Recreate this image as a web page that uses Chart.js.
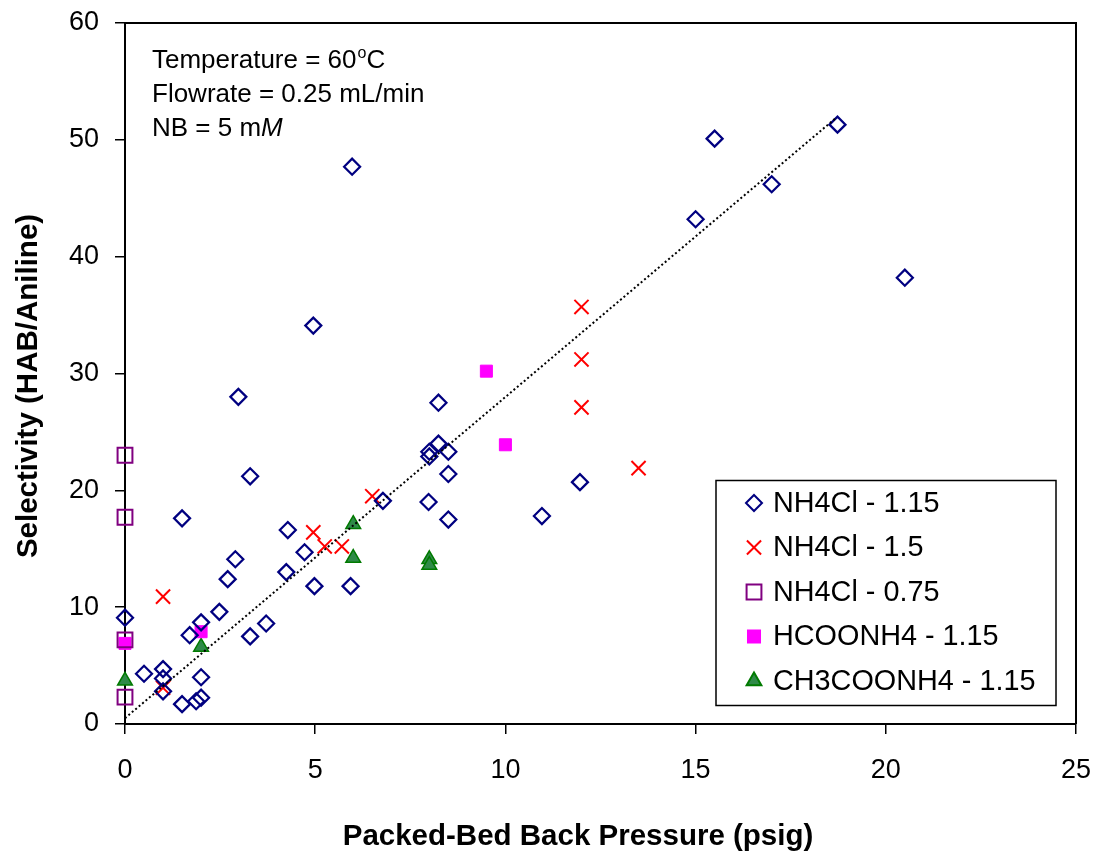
<!DOCTYPE html>
<html>
<head>
<meta charset="utf-8">
<script src="https://cdn.jsdelivr.net/npm/chart.js@4.4.1/dist/chart.umd.min.js"></script>
<style>
    html, body { margin: 0; padding: 0; background: #fff; }
</style>
</head>
<body>
<canvas id="selectivityChart" width="1096" height="854"></canvas>
<script>
const FONT = '"Liberation Sans", Arial, sans-serif';

// NH4Cl - 1.15
const nh4cl115X = [0, 0.5, 1, 1, 1, 1.5, 1.5, 1.7, 2, 2, 1.87, 2, 2.48, 2.7, 2.9, 2.98, 3.29, 3.29, 3.71,
    4.24, 4.28, 4.72, 4.98, 4.95, 5.93, 5.97, 6.78, 7.98, 8, 8, 8.24, 8.24, 8.5, 8.5, 8.5, 10.96, 11.96,
    15, 15.5, 17, 18.73, 20.5];
const nh4cl115Y = [9.1, 4.3, 4.7, 3.9, 2.8, 1.7, 17.6, 7.6, 8.7, 4.0, 1.95, 2.25, 9.6, 12.4, 14.1, 28.0, 21.2, 7.5, 8.6,
    13.0, 16.6, 14.7, 11.8, 34.1, 11.8, 47.7, 19.1, 19.0, 22.9, 23.3, 24.0, 27.5, 23.3, 21.4, 17.5, 17.8, 20.7,
    43.2, 50.1, 46.2, 51.3, 38.2];

// NH4Cl - 1.5
const nh4cl15X = [1, 1, 4.95, 5.25, 5.7, 6.5, 12, 12, 12, 13.5];
const nh4cl15Y = [10.9, 3.1, 16.4, 15.2, 15.2, 19.5, 35.7, 31.2, 27.1, 21.9];

// NH4Cl - 0.75
const nh4cl075X = [0, 0, 0, 0];
const nh4cl075Y = [23.0, 17.7, 7.2, 2.3];

// HCOONH4 - 1.15
const hcoonh4X = [0, 2, 9.5, 10];
const hcoonh4Y = [6.9, 7.9, 30.2, 23.9];

// CH3COONH4 - 1.15
const ch3coonh4X = [0, 2, 6, 6, 8, 8];
const ch3coonh4Y = [3.7, 6.6, 17.1, 14.2, 14.1, 13.6];

// dotted trend line, end points
const trendX = [0, 18.7];
const trendY = [0.5, 51.9];

const xTicks = [0, 5, 10, 15, 20, 25];
const yTicks = [0, 10, 20, 30, 40, 50, 60];

function toPoints(xs, ys) {
    return xs.map((x, i) => ({ x: x, y: ys[i] }));
}

// keep the plot area where it is: no extra room for the edge labels
function noLabelPadding(scale) {
    scale.paddingTop = 0;
    scale.paddingBottom = 0;
    scale.paddingLeft = 0;
    scale.paddingRight = 0;
}

// Draws the frame, the legend box, the notes and the axis titles
const decorPlugin = {
    id: 'decor',
    afterDatasetsDraw(chart) {
        const ctx = chart.ctx;
        const area = chart.chartArea;

        ctx.save();
        ctx.strokeStyle = '#000';
        ctx.lineWidth = 2;
        ctx.beginPath();
        ctx.moveTo(area.left, area.top);
        ctx.lineTo(area.right, area.top);
        ctx.lineTo(area.right, area.bottom);
        ctx.stroke();

        // legend box in the lower right corner
        const box = { right: area.right - 20, bottom: area.bottom - 18.5, width: 340, height: 225 };
        box.left = box.right - box.width;
        box.top = box.bottom - box.height;
        ctx.fillStyle = '#fff';
        ctx.fillRect(box.left, box.top, box.width, box.height);
        ctx.lineWidth = 1.5;
        ctx.strokeRect(box.left, box.top, box.width, box.height);

        const entries = chart.data.datasets.filter(ds => !ds.noLegend);
        entries.forEach((ds, i) => {
            const y = box.top + 22.5 + i * 44.5;
            ctx.fillStyle = ds.backgroundColor;
            ctx.strokeStyle = ds.borderColor;
            ctx.lineWidth = 2;
            Chart.helpers.drawPoint(ctx, {
                pointStyle: ds.pointStyle,
                radius: ds.pointRadius,
                rotation: 0,
                borderWidth: 2
            }, box.left + 38, y);
            ctx.fillStyle = '#000';
            ctx.font = '28.8px ' + FONT;
            ctx.textAlign = 'left';
            ctx.textBaseline = 'middle';
            ctx.fillText(ds.label, box.left + 57, y + 1);
        });

        // notes in the upper left corner
        ctx.fillStyle = '#000';
        ctx.textBaseline = 'alphabetic';
        ctx.font = '26px ' + FONT;
        const nx = area.left + 27;
        let t = 'Temperature = 60';
        ctx.fillText(t, nx, 68);
        let w = ctx.measureText(t).width;
        ctx.font = '16px ' + FONT;
        ctx.fillText('o', nx + w + 1, 58);
        const ow = ctx.measureText('o').width;
        ctx.font = '26px ' + FONT;
        ctx.fillText('C', nx + w + ow + 1, 68);
        ctx.fillText('Flowrate = 0.25 mL/min', nx, 102);
        t = 'NB = 5 m';
        ctx.fillText(t, nx, 136);
        w = ctx.measureText(t).width;
        ctx.font = 'italic 26px ' + FONT;
        ctx.fillText('M', nx + w, 136);

        // axis titles
        ctx.font = 'bold 29.5px ' + FONT;
        ctx.textAlign = 'center';
        ctx.textBaseline = 'middle';
        ctx.fillText('Packed-Bed Back Pressure (psig)', 578, 837);
        ctx.translate(29, 386);
        ctx.rotate(-Math.PI / 2);
        ctx.fillText('Selectivity (HAB/Aniline)', 0, 0);
        ctx.restore();
    }
};

const ctx = document.getElementById('selectivityChart').getContext('2d');

const chartConfig = {
    type: 'scatter',
    data: {
        datasets: [{
            label: 'NH4Cl - 1.15',
            data: toPoints(nh4cl115X, nh4cl115Y),
            pointStyle: 'rectRot',
            pointRadius: 8,
            borderWidth: 2.25,
            borderColor: '#000080',
            backgroundColor: 'rgba(0,0,0,0)',
            clip: false
        }, {
            label: 'NH4Cl - 1.5',
            data: toPoints(nh4cl15X, nh4cl15Y),
            pointStyle: 'crossRot',
            pointRadius: 10,
            borderWidth: 2,
            borderColor: '#ff0000',
            backgroundColor: '#ff0000',
            clip: false
        }, {
            label: 'NH4Cl - 0.75',
            data: toPoints(nh4cl075X, nh4cl075Y),
            pointStyle: 'rect',
            pointRadius: 10.5,
            borderWidth: 2,
            borderColor: '#800080',
            backgroundColor: 'rgba(0,0,0,0)',
            clip: false
        }, {
            label: 'HCOONH4 - 1.15',
            data: toPoints(hcoonh4X, hcoonh4Y),
            pointStyle: 'rect',
            pointRadius: 8.5,
            borderWidth: 1,
            borderColor: '#ff00ff',
            backgroundColor: '#ff00ff',
            clip: false
        }, {
            label: 'CH3COONH4 - 1.15',
            data: toPoints(ch3coonh4X, ch3coonh4Y),
            pointStyle: 'triangle',
            pointRadius: 8.5,
            borderWidth: 1.5,
            borderColor: '#007a00',
            backgroundColor: '#2f8a48',
            clip: false
        }, {
            type: 'line',
            label: 'trend',
            noLegend: true,
            data: toPoints(trendX, trendY),
            showLine: true,
            pointRadius: 0,
            borderColor: '#000',
            borderWidth: 2,
            borderDash: [2, 2.5],
            fill: false,
            order: -1
        }]
    },
    options: {
        responsive: false,
        animation: false,
        layout: {
            padding: { top: 23, right: 20, left: 0, bottom: 0 }
        },
        plugins: {
            legend: { display: false },
            tooltip: { enabled: false }
        },
        scales: {
            x: {
                type: 'linear',
                min: 0,
                max: 25,
                afterBuildTicks: scale => { scale.ticks = xTicks.map(v => ({ value: v })); },
                afterFit: scale => { scale.height = 130; noLabelPadding(scale); },
                grid: { drawOnChartArea: false, drawTicks: true, tickLength: 10, color: '#000', lineWidth: 1.5 },
                border: { display: true, color: '#000', width: 2 },
                ticks: { color: '#000', padding: 20, font: { family: FONT, size: 27 }, maxRotation: 0 }
            },
            y: {
                type: 'linear',
                min: 0,
                max: 60,
                afterBuildTicks: scale => { scale.ticks = yTicks.map(v => ({ value: v })); },
                afterFit: scale => { scale.width = 125; noLabelPadding(scale); },
                grid: { drawOnChartArea: false, drawTicks: true, tickLength: 10, color: '#000', lineWidth: 1.5 },
                border: { display: true, color: '#000', width: 2 },
                ticks: { color: '#000', padding: 16, font: { family: FONT, size: 27 } }
            }
        }
    },
    plugins: [decorPlugin]
};

const mainChart = new Chart(ctx, chartConfig);
</script>
</body>
</html>
